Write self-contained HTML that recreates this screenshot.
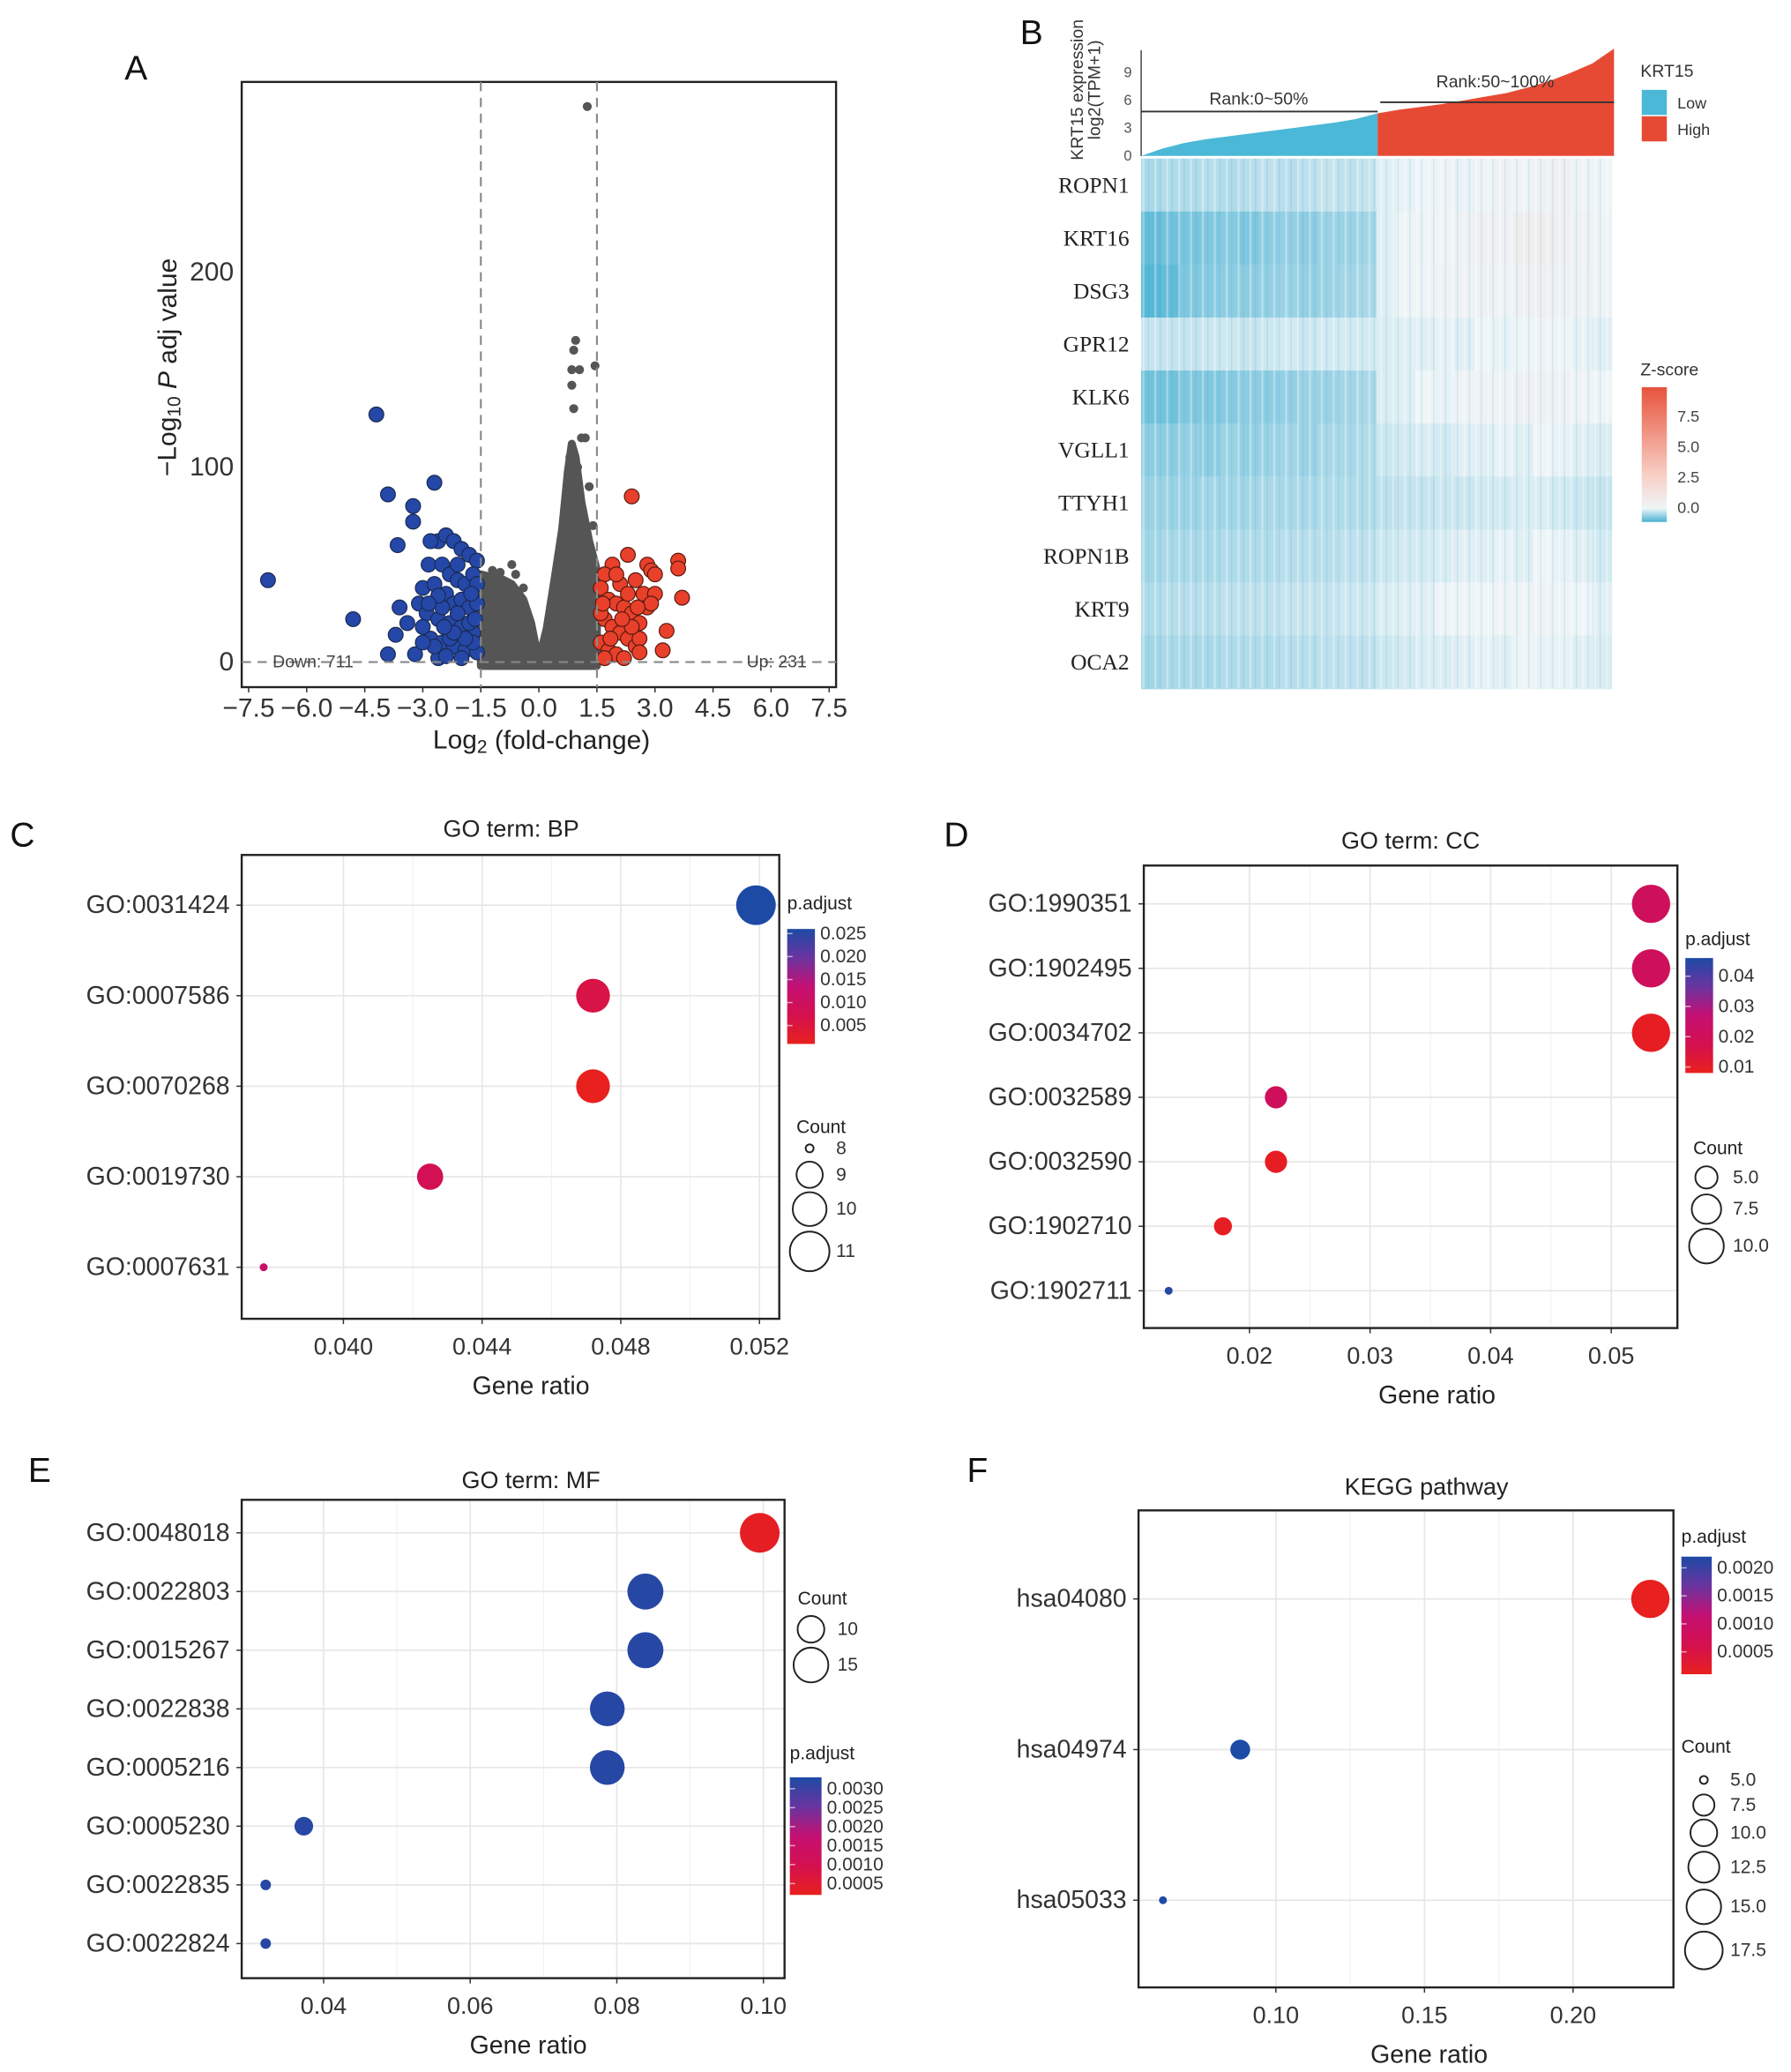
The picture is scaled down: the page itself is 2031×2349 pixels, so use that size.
<!DOCTYPE html>
<html><head><meta charset="utf-8">
<style>
html,body{margin:0;padding:0;background:#fff;}
svg{display:block;font-family:"Liberation Sans",Arial,sans-serif;}
</style></head>
<body>
<svg id="fig" width="2031" height="2349" viewBox="0 0 1356 1568" preserveAspectRatio="none" xmlns="http://www.w3.org/2000/svg"></svg>
<script>
// ---------- DATA ----------
const volXTicks=[-7.5,-6.0,-4.5,-3.0,-1.5,0.0,1.5,3.0,4.5,6.0,7.5];
const volYTicks=[0,100,200];
const envX=[-1.5,-1.3,-1.0,-0.7,-0.4,-0.2,-0.05,0.05,0.2,0.4,0.6,0.75,0.85,0.95,1.1,1.3,1.5];
const envY=[45,44,43,40,32,20,5,5,17,42,68,98,112,105,82,62,47];
const grayX=[1.25,0.95,0.9,0.85,1.05,1.45,0.85,0.9,1.1,1.2,-0.7,1.4,0.8,1.0,-1.0,-0.4,-0.6,-1.2,0.7,1.3];
const grayY=[285,165,160,150,150,152,142,130,115,115,50,70,105,100,46,38,45,47,85,90];
const blueX=[-7.0,-4.8,-4.2,-3.9,-2.7,-3.25,-3.25,-3.65,-2.85,-3.6,-3.9,-3.7,-3.4,-3.0,-3.1,-3.2,-2.6,-2.6,-2.4,-2.2,-2.0,-1.8,-1.6,-2.8,-2.5,-2.3,-2.1,-1.9,-1.7,-2.7,-2.4,-2.2,-2.0,-1.8,-1.6,-2.9,-2.6,-2.3,-2.0,-1.7,-2.8,-2.5,-2.2,-1.9,-1.6,-2.4,-2.0,-1.7,-3.0,-2.7,-2.1,-1.8,-2.5,-1.6,-2.3,-1.9,-3.0,-2.2,-2.6,-2.1,-1.75,-2.45,-2.85,-1.65];
const blueY=[42,22,127,86,92,80,72,60,50,28,4,14,20,38,30,4,2,62,65,62,58,55,52,62,50,45,42,40,45,40,35,30,32,28,30,25,22,20,18,15,12,10,8,6,5,3,2,10,18,8,25,20,28,40,12,12,10,15,34,50,35,18,30,22];
const redX=[2.4,3.6,3.6,3.7,3.3,3.2,2.8,2.9,3.0,2.3,1.9,1.7,2.1,2.5,2.7,3.0,1.6,1.8,2.0,2.2,2.4,2.6,1.7,1.9,2.1,2.3,2.5,1.6,1.8,2.0,2.2,2.6,2.8,1.6,2.3,2.0,2.6,1.7,2.4,2.9,1.85,2.15,2.55,1.65];
const redY=[85,52,48,33,16,6,50,47,45,55,50,45,40,42,35,35,38,32,30,28,25,20,22,18,15,12,8,10,6,4,2,12,28,25,35,45,5,2,18,30,12,22,28,30];
const barLow=[0,0.8,1.4,1.8,2.1,2.4,2.7,3.0,3.3,3.6,4.0,4.6];
const barHigh=[4.6,5.0,5.3,5.6,6.0,6.4,6.8,7.4,8.1,9.0,10.0,11.6];
const barTicks=[0,3,6,9];
const genes=["ROPN1","KRT16","DSG3","GPR12","KLK6","VGLL1","TTYH1","ROPN1B","KRT9","OCA2"];
const heat=[
[-0.5,-0.45,-0.45,-0.4,-0.45,-0.4,-0.35,-0.4,-0.35,-0.3,-0.35,-0.3,-0.1,-0.05,0,0.05,-0.05,0.1,0.15,0.05,0.2,0.3,0.1,0],
[-1.0,-0.9,-0.85,-0.8,-0.75,-0.8,-0.7,-0.65,-0.7,-0.6,-0.6,-0.55,-0.1,0,0.1,0.05,0.2,0.3,0.2,0.35,0.4,0.3,0.2,0.1],
[-1.1,-1.0,-0.8,-0.75,-0.7,-0.7,-0.65,-0.6,-0.65,-0.6,-0.55,-0.5,-0.1,0,0.05,0.1,0.15,0.2,0.1,0.25,0.3,0.2,0.15,0.1],
[-0.3,-0.3,-0.3,-0.25,-0.25,-0.3,-0.25,-0.2,-0.25,-0.2,-0.2,-0.2,-0.15,-0.1,-0.1,-0.05,-0.1,0,-0.05,0,0.05,0,-0.05,-0.1],
[-0.9,-0.9,-0.8,-0.8,-0.75,-0.7,-0.7,-0.65,-0.6,-0.6,-0.55,-0.5,-0.15,-0.1,0,-0.05,0.1,0.15,0.05,0.2,0.2,0.15,0.1,0],
[-0.7,-0.7,-0.65,-0.7,-0.6,-0.65,-0.6,-0.55,-0.6,-0.5,-0.5,-0.45,-0.25,-0.2,-0.15,-0.2,-0.1,-0.1,-0.05,-0.1,0,-0.05,-0.1,-0.15],
[-0.6,-0.6,-0.6,-0.55,-0.55,-0.55,-0.5,-0.5,-0.5,-0.45,-0.45,-0.45,-0.35,-0.3,-0.3,-0.25,-0.25,-0.2,-0.2,-0.15,-0.15,-0.2,-0.25,-0.3],
[-0.55,-0.5,-0.5,-0.5,-0.45,-0.45,-0.45,-0.4,-0.4,-0.4,-0.35,-0.35,-0.25,-0.2,-0.2,-0.15,-0.1,-0.1,-0.05,-0.1,0,-0.05,-0.1,-0.2],
[-0.45,-0.4,-0.4,-0.4,-0.35,-0.35,-0.35,-0.3,-0.3,-0.3,-0.25,-0.25,-0.15,-0.1,-0.1,0,0.05,0,0.1,0.05,0.1,0.05,0,-0.1],
[-0.55,-0.5,-0.5,-0.5,-0.45,-0.45,-0.45,-0.4,-0.4,-0.35,-0.35,-0.35,-0.25,-0.2,-0.15,-0.15,-0.1,-0.05,-0.1,0,-0.05,-0.05,-0.1,-0.15]];
const zTicks=[0.0,2.5,5.0,7.5];
const cTerms=["GO:0031424","GO:0007586","GO:0070268","GO:0019730","GO:0007631"];
const cRatio=[0.0519,0.0472,0.0472,0.0425,0.0377];
const cCount=[11,10,10,9,8];
const cPadj=[0.026,0.006,0.001,0.008,0.012];
const cXTicks=[0.040,0.044,0.048,0.052];
const cPTicks=[0.025,0.020,0.015,0.010,0.005];
const cCTicks=[8,9,10,11];
const dTerms=["GO:1990351","GO:1902495","GO:0034702","GO:0032589","GO:0032590","GO:1902710","GO:1902711"];
const dRatio=[0.0533,0.0533,0.0533,0.0222,0.0222,0.0178,0.0133];
const dCount=[12,12,12,5,5,4,3];
const dPadj=[0.021,0.021,0.009,0.021,0.009,0.009,0.045];
const dXTicks=[0.02,0.03,0.04,0.05];
const dPTicks=[0.04,0.03,0.02,0.01];
const dCTicks=[5.0,7.5,10.0];
const eTerms=["GO:0048018","GO:0022803","GO:0015267","GO:0022838","GO:0005216","GO:0005230","GO:0022835","GO:0022824"];
const eRatio=[0.0995,0.0839,0.0839,0.0787,0.0787,0.0373,0.0321,0.0321];
const eCount=[19,16,16,15,15,7,6,6];
const ePadj=[0.0003,0.0032,0.0032,0.0032,0.0032,0.0032,0.0032,0.0032];
const eXTicks=[0.04,0.06,0.08,0.10];
const ePTicks=[0.0030,0.0025,0.0020,0.0015,0.0010,0.0005];
const eCTicks=[10,15];
const fTerms=["hsa04080","hsa04974","hsa05033"];
const fRatio=[0.226,0.088,0.062];
const fCount=[18,7,5];
const fPadj=[0.0001,0.0022,0.0022];
const fXTicks=[0.10,0.15,0.20];
const fPTicks=[0.0020,0.0015,0.0010,0.0005];
const fCTicks=[5.0,7.5,10.0,12.5,15.0,17.5];

// ---------- HELPERS ----------
const NS="http://www.w3.org/2000/svg";
const svg=document.getElementById('fig');
function mk(tag,attrs,parent){const e=document.createElementNS(NS,tag);for(const k in attrs)e.setAttribute(k,attrs[k]);(parent||svg).appendChild(e);return e;}
function txt(s,x,y,size,opts){opts=opts||{};const e=mk('text',{x:x,y:y,'font-size':size,fill:opts.fill||'#222','text-anchor':opts.anchor||'start','dominant-baseline':'central'});if(opts.family)e.setAttribute('font-family',opts.family);if(opts.rot)e.setAttribute('transform','rotate(-90 '+x+' '+y+')');e.textContent=s;return e;}
function lerp(a,b,t){return a+(b-a)*t;}
function hex(c){return [parseInt(c.slice(1,3),16),parseInt(c.slice(3,5),16),parseInt(c.slice(5,7),16)];}
function mix(c1,c2,t){const a=hex(c1),b=hex(c2);return 'rgb('+a.map((v,i)=>Math.round(lerp(v,b[i],t))).join(',')+')';}
const pStops=['#e8201e','#d4104f','#c41073','#6a34a0','#1d4aa5'];
function pColor(t){t=Math.max(0,Math.min(1,t));const n=pStops.length-1;const i=Math.min(n-1,Math.floor(t*n));return mix(pStops[i],pStops[i+1],t*n-i);}
function zColor(v){if(v<0){return mix('#eef5f7','#48b1d3',Math.min(1,-v/1.2));}return mix('#eef5f7','#e8604a',Math.min(1,v/8));}

[["A",103,52],["B",781,25],["C",17,632],["D",724,632],["E",30,1113],["F",740,1113]].forEach(l=>{
 const t=txt(l[0],l[1],l[2],26,{anchor:'middle',fill:'#111'});
 
 
});

// ---------- PANEL A ----------
(function(){
 const L=183,R=633,T=62,B=520;
 const xs=v=>408+29.3*v, ys=v=>501-1.475*v;
 const g=mk('g',{});
 
 
 const box=mk('rect',{x:L,y:T,width:R-L,height:B-T,fill:'none',stroke:'#222','stroke-width':1.6},g);
 
 
 let d='M'+xs(envX[0])+','+ys(-2);
 envX.forEach((v,i)=>{d+=' L'+xs(v)+','+ys(envY[i]);});
 d+=' L'+xs(envX[envX.length-1])+','+ys(-2)+' Z';
 const env=mk('path',{d:d,fill:'#555','stroke':'#555','stroke-width':6,'stroke-linejoin':'round'},g);
 
 
 grayX.forEach((v,i)=>{const c=mk('circle',{cx:xs(v),cy:ys(grayY[i]),r:3.4,fill:'#555'},g);
  
  });
 blueX.forEach((v,i)=>{const c=mk('circle',{cx:xs(v),cy:ys(blueY[i]),r:5.6,fill:'#2548a8',stroke:'#1a2a50','stroke-width':0.8},g);
  
  });
 redX.forEach((v,i)=>{const c=mk('circle',{cx:xs(v),cy:ys(redY[i]),r:5.6,fill:'#e8402a',stroke:'#5a1a10','stroke-width':0.8},g);
  
  });
 [-1.5,1.5].forEach(v=>{const l=mk('line',{x1:xs(v),x2:xs(v),y1:T,y2:B,stroke:'#888','stroke-width':1.4,'stroke-dasharray':'7,5'},g);
  
  });
 const h=mk('line',{x1:L,x2:R,y1:ys(0),y2:ys(0),stroke:'#888','stroke-width':1.4,'stroke-dasharray':'7,5'},g);
 
 
 const dn=txt('Down: 711',237,501,13,{anchor:'middle',fill:'#444'});
 
 
 const up=txt('Up: 231',588,501,13,{anchor:'middle',fill:'#444'});
 
 
 volXTicks.forEach(v=>{const t=txt(v===0?'0.0':(v<0?'\u2212'+Math.abs(v).toFixed(1):v.toFixed(1)),xs(v),536,20,{anchor:'middle',fill:'#333'});
  
  
  const k=mk('line',{x1:xs(v),x2:xs(v),y1:B,y2:B+4,stroke:'#333'});
  
  });
 volYTicks.forEach(v=>{const t=txt(String(v),L-6,ys(v),20,{anchor:'end',fill:'#333'});
  
  });
 const xl=txt('',410,560,20,{anchor:'middle',fill:'#222'});
 xl.innerHTML='Log<tspan font-size="14" dy="5">2</tspan><tspan dy="-5"> (fold-change)</tspan>';
 
 
 const yl=txt('',127,278,20,{anchor:'middle',fill:'#222',rot:true});
 yl.innerHTML='\u2212Log<tspan font-size="14" dy="5">10</tspan><tspan dy="-5" font-style="italic"> P</tspan><tspan> adj value</tspan>';
 
 
})();

// ---------- PANEL B ----------
(function(){
 const L=864,R=1222,base=118,k=7;
 const mid=(L+R)/2;
 const g=mk('g',{});
 
 
 function area(vals,x0,x1,col,name){let d='M'+x0+','+base;vals.forEach((v,i)=>{d+=' L'+(x0+(x1-x0)*i/(vals.length-1))+','+(base-k*v);});d+=' L'+x1+','+base+' Z';
  const p=mk('path',{d:d,fill:col},g);
  
  }
 area(barLow,L,mid,'#4ab8d6','low-expression-area');
 area(barHigh,mid,R,'#e64a34','high-expression-area');
 const ax=mk('line',{x1:L,x2:L,y1:base,y2:38,stroke:'#444','stroke-width':1},g);
 
 
 barTicks.forEach(v=>{const t=txt(String(v),L-7,base-k*v,11,{anchor:'end',fill:'#555'});
  
  });
 const l1=mk('line',{x1:L,x2:mid,y1:base-k*4.8,y2:base-k*4.8,stroke:'#333','stroke-width':1.3},g);
 
 
 const l2=mk('line',{x1:mid+2,x2:R,y1:base-k*5.8,y2:base-k*5.8,stroke:'#333','stroke-width':1.3},g);
 
 
 let t=txt('Rank:0~50%',953,75,13,{anchor:'middle',fill:'#333'});
 
 
 t=txt('Rank:50~100%',1132,62,13,{anchor:'middle',fill:'#333'});
 
 
 t=txt('KRT15 expression',816,68,13,{anchor:'middle',fill:'#333',rot:true});
 
 
 t=txt('log2(TPM+1)',829,68,13,{anchor:'middle',fill:'#333',rot:true});
 
 
 t=txt('KRT15',1242,54,13,{fill:'#333'});
 
 
 [['Low','#4ab8d6',68],['High','#e64a34',88]].forEach(a=>{const r=mk('rect',{x:1243,y:a[2],width:19,height:19,fill:a[1]},g);
  
  
  const tt=txt(a[0],1270,a[2]+10,12,{fill:'#333'});
  
  });
 const HT=120,HB=521,HR=1220,rh=(HB-HT)/genes.length;
 genes.forEach((gname,r)=>{
  const row=heat[r],bw=(HR-L)/row.length;
  row.forEach((v,c)=>{const cell=mk('rect',{x:L+c*bw,y:HT+r*rh,width:bw+0.6,height:rh+0.6,fill:zColor(v)},g);
   
   });
  const lab=txt(gname,855,HT+(r+0.5)*rh,17,{anchor:'end',fill:'#222',family:'"Liberation Serif",serif'});
  
  
 });
 const defs=mk('defs',{});
 const pat=mk('pattern',{id:'stripes',width:9,height:10,patternUnits:'userSpaceOnUse'},defs);
 mk('rect',{x:1,y:0,width:1.5,height:10,fill:'rgba(255,255,255,0.35)'},pat);
 mk('rect',{x:5,y:0,width:1,height:10,fill:'rgba(60,150,190,0.15)'},pat);
 const ov=mk('rect',{x:L,y:HT,width:HR-L,height:HB-HT,fill:'url(#stripes)'},g);
 
 
 t=txt('Z-score',1242,280,13,{fill:'#333'});
 
 
 const zg=mk('linearGradient',{id:'zg',x1:0,y1:1,x2:0,y2:0},defs);
 [[0,'#48b1d3'],[0.1,'#eef5f7'],[0.35,'#f8cfc5'],[1,'#e8533c']].forEach(s=>mk('stop',{offset:s[0],'stop-color':s[1]},zg));
 const zb=mk('rect',{x:1243,y:293,width:19,height:102,fill:'url(#zg)'},g);
 
 
 zTicks.forEach(v=>{const tt=txt(v.toFixed(1),1270,384-v*9.2,12,{fill:'#444'});
  
  });
})();

// ---------- DOT PLOTS ----------
function dotPlot(o){
 const g=mk('g',{});
 
 
 const xs=v=>o.x0px+(v-o.x0)*o.kx;
 const rowY=i=>o.rowTop+i*o.rowStep;
 const cmin=Math.min(...o.count),cmax=Math.max(...o.count);
 const rad=c=>o.rmin+Math.sqrt((c-cmin)/(cmax-cmin))*(o.rmax-o.rmin);
 const pmin=o.pmin,pmax=o.pmax;
 o.xticks.forEach((v,i)=>{
  const gl=mk('line',{x1:xs(v),x2:xs(v),y1:o.T,y2:o.B,stroke:'#e6e6e6','stroke-width':1.1},g);
  
  
  if(i>0){const m=(v+o.xticks[i-1])/2;const ml=mk('line',{x1:xs(m),x2:xs(m),y1:o.T,y2:o.B,stroke:'#f2f2f2','stroke-width':0.8},g);
   
   }
  const tl=txt(o.fmt(v),xs(v),o.B+21,18,{anchor:'middle',fill:'#333'});
  
  
  const tk=mk('line',{x1:xs(v),x2:xs(v),y1:o.B,y2:o.B+4,stroke:'#333'},g);
  
  
 });
 o.terms.forEach((t,i)=>{
  const gl=mk('line',{x1:o.L,x2:o.R,y1:rowY(i),y2:rowY(i),stroke:'#e6e6e6','stroke-width':1.1},g);
  
  
  const lab=txt(t,o.L-9,rowY(i),19,{anchor:'end',fill:'#333'});
  
  
  const tk=mk('line',{x1:o.L-4,x2:o.L,y1:rowY(i),y2:rowY(i),stroke:'#333'},g);
  
  
 });
 const box=mk('rect',{x:o.L,y:o.T,width:o.R-o.L,height:o.B-o.T,fill:'none',stroke:'#222','stroke-width':1.6},g);
 
 
 o.terms.forEach((t,i)=>{
  const c=mk('circle',{cx:xs(o.ratio[i]),cy:rowY(i),r:rad(o.count[i]),fill:pColor((o.padj[i]-pmin)/(pmax-pmin))},g);
  
  
 });
 let tt=txt(o.title,o.titleX,o.titleY,18,{anchor:'middle',fill:'#222'});
 
 
 tt=txt('Gene ratio',o.xtX,o.B+51,19,{anchor:'middle',fill:'#222'});
 
 
 const pl=o.pLeg;
 tt=txt('p.adjust',pl.x,pl.ty,14,{fill:'#222'});
 
 
 const gid='pg'+o.name;
 const defs=mk('defs',{});
 const lg=mk('linearGradient',{id:gid,x1:0,y1:1,x2:0,y2:0},defs);
 pStops.forEach((s,i)=>mk('stop',{offset:i/(pStops.length-1),'stop-color':s},lg));
 const bar=mk('rect',{x:pl.x,y:pl.y0,width:pl.w,height:pl.y1-pl.y0,fill:'url(#'+gid+')'},g);
 
 
 const py=v=>pl.y1-(v-pmin)/(pmax-pmin)*(pl.y1-pl.y0);
 o.pticks.forEach(v=>{const l=txt(o.pfmt(v),pl.x+pl.w+4,py(v),14,{fill:'#333'});
  
  
  const tk=mk('line',{x1:pl.x,x2:pl.x+4,y1:py(v),y2:py(v),stroke:'rgba(255,255,255,0.6)'},g);
  
  });
 const cl=o.cLeg;
 tt=txt('Count',cl.tx,cl.ty,14,{fill:'#222'});
 
 
 o.cticks.forEach((v,i)=>{const cy=cl.ys[i];
  const c=mk('circle',{cx:cl.x,cy:cy,r:Math.max(1.5,rad(v)),fill:'none',stroke:'#222','stroke-width':1.3},g);
  
  
  const l=txt(o.cfmt(v),cl.x+20,cy,14,{fill:'#333'});
  
  });
}

dotPlot({name:'go-bp-plot',title:'GO term: BP',titleX:387,titleY:627,L:183,R:590,T:647,B:998,xtX:402,
 terms:cTerms,ratio:cRatio,count:cCount,padj:cPadj,xticks:cXTicks,fmt:v=>v.toFixed(3),
 x0:0.040,x0px:260,kx:26250,rowTop:685,rowStep:68.5,rmin:3,rmax:15,pmin:0.001,pmax:0.026,
 pLeg:{x:596,w:21,y0:703,y1:790,ty:684},pticks:cPTicks,pfmt:v=>v.toFixed(3),
 cLeg:{x:613,tx:603,ty:853,ys:[869,889,915,947]},cticks:cCTicks,cfmt:v=>String(v)});

dotPlot({name:'go-cc-plot',title:'GO term: CC',titleX:1068,titleY:636,L:866,R:1270,T:655,B:1005,xtX:1088,
 terms:dTerms,ratio:dRatio,count:dCount,padj:dPadj,xticks:dXTicks,fmt:v=>v.toFixed(2),
 x0:0.02,x0px:946,kx:9130,rowTop:684,rowStep:48.8,rmin:3,rmax:14.5,pmin:0.008,pmax:0.046,
 pLeg:{x:1276,w:21,y0:725,y1:812,ty:711},pticks:dPTicks,pfmt:v=>v.toFixed(2),
 cLeg:{x:1292,tx:1282,ty:869,ys:[891,915,943]},cticks:dCTicks,cfmt:v=>v.toFixed(1)});

dotPlot({name:'go-mf-plot',title:'GO term: MF',titleX:402,titleY:1120,L:183,R:594,T:1135,B:1497,xtX:400,
 terms:eTerms,ratio:eRatio,count:eCount,padj:ePadj,xticks:eXTicks,fmt:v=>v.toFixed(2),
 x0:0.04,x0px:245,kx:5550,rowTop:1160,rowStep:44.4,rmin:4,rmax:15,pmin:0.0002,pmax:0.0033,
 pLeg:{x:598,w:24,y0:1345,y1:1434,ty:1327},pticks:ePTicks,pfmt:v=>v.toFixed(4),
 cLeg:{x:614,tx:604,ty:1210,ys:[1233,1260]},cticks:eCTicks,cfmt:v=>String(v)});

dotPlot({name:'kegg-plot',title:'KEGG pathway',titleX:1080,titleY:1125,L:862,R:1267,T:1143,B:1504,xtX:1082,
 terms:fTerms,ratio:fRatio,count:fCount,padj:fPadj,xticks:fXTicks,fmt:v=>v.toFixed(2),
 x0:0.10,x0px:966,kx:2250,rowTop:1210,rowStep:114,rmin:3,rmax:14.5,pmin:0.0001,pmax:0.0022,
 pLeg:{x:1273,w:23,y0:1178,y1:1267,ty:1163},pticks:fPTicks,pfmt:v=>v.toFixed(4),
 cLeg:{x:1290,tx:1273,ty:1322,ys:[1347,1366,1387,1413,1443,1476]},cticks:fCTicks,cfmt:v=>v.toFixed(1)});
</script>
</body></html>
